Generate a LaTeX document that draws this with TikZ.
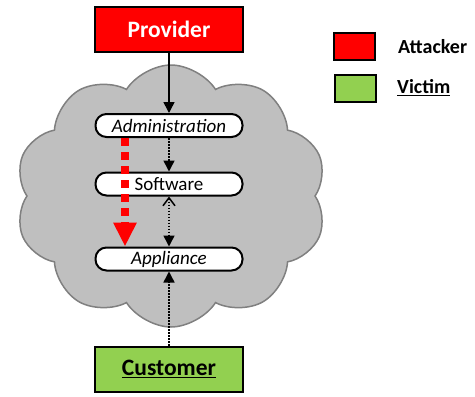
\documentclass[tikz,border=0pt]{standalone}
\usepackage{fontspec}
\setmainfont{Carlito}
\usetikzlibrary{arrows.meta,shapes.symbols}

\begin{document}
\begin{tikzpicture}[x=1pt,y=-1pt,
  pill/.style={draw=black,line width=2pt,fill=white,rounded corners=11pt,
    minimum width=147pt,minimum height=23pt,inner sep=0pt,font=\fontsize{19}{21}\selectfont},
  party/.style={draw=black,line width=2pt,minimum width=148pt,minimum height=45pt,
    inner sep=0pt,font=\fontsize{23.5}{26}\selectfont\bfseries},
  keybox/.style={draw=black,line width=2pt,minimum width=41pt,minimum height=27pt,inner sep=0pt},
  keytext/.style={anchor=west,inner sep=0pt,font=\fontsize{20}{22}\selectfont\bfseries},
  link/.style={line width=1.5pt,dash pattern=on 1.5pt off 1.5pt,-{Triangle[length=11pt,width=11pt]}}]
\useasboundingbox (0,0) rectangle (475,397);

% the cloud
\node (cloud) [cloud,cloud puffs=10,cloud puff arc=115,draw=gray,fill=gray!50,line width=1.5pt,
  minimum width=312pt,minimum height=262pt] at (171,196) {};

% parties
\node (provider) [party,fill=red,text=white] at (169,29) {Provider};
\node (customer) [party,fill={rgb,255:red,146;green,208;blue,80}] at (169,369) {\underline{Customer}};

% layers
\node (admin) [pill] at (169,125.5) {\itshape Administration};
\node (soft) [pill] at (169,184) {Software};
\node (appl) [pill] at (169,259) {\itshape Appliance};

% legend
\node (red key) [keybox,fill=red] at (354,46.5) {};
\node (green key) [keybox,fill={rgb,255:red,146;green,208;blue,80}] at (355,88.5) {};
\node (attacker) [keytext] at (398,47) {Attacker};
\node (victim) [keytext] at (397,88) {\underline{Victim}};

% arrows
\draw[line width=1.5pt,-{Triangle[length=11pt,width=11pt]}] (provider) -- (admin);
\draw[link] (admin) -- (soft);
\draw[link,{Straight Barb[length=8pt,width=12pt]}-{Triangle[length=11pt,width=11pt]}] (soft) -- (appl);
\draw[link] (customer) -- (appl);
\draw[red,line width=8pt,dash pattern=on 8pt off 6pt,-{Triangle[length=24pt,width=22pt]}]
  (admin.south west -| 125,0) -- (appl.north west -| 125,0);
\end{tikzpicture}
\end{document}
